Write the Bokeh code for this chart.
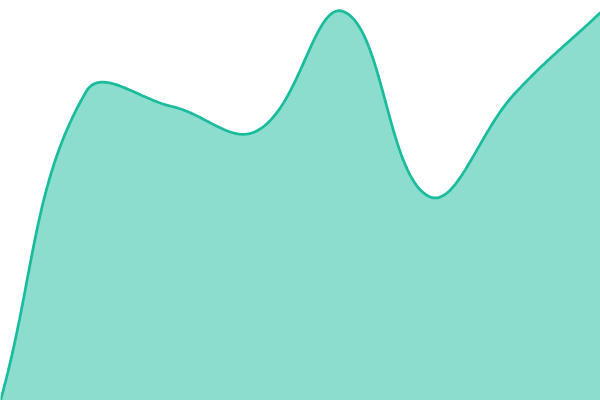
import numpy as np
from bokeh.plotting import figure
from bokeh.models import Range1d
from bokeh.embed import file_html
from bokeh.resources import INLINE

# Data (8 evenly spaced categories)
categories = list(range(8))
values = [0, 309, 294, 270, 389, 204, 307, 388]

W, H = 600, 400
Y_MIN, Y_MAX = 0, 400
X_MIN, X_MAX = 0, len(categories) - 1
TENSION = 0.4


def to_px(x, y):
    return (np.asarray(x) - X_MIN) / (X_MAX - X_MIN) * W, (np.asarray(y) - Y_MIN) / (Y_MAX - Y_MIN) * H


def to_data(px, py):
    return px / W * (X_MAX - X_MIN) + X_MIN, py / H * (Y_MAX - Y_MIN) + Y_MIN


def smooth_path(xs, ys, t=TENSION, n=40):
    """Rendering helper: tension spline through the data points (pixel space)."""
    px, py = to_px(xs, ys)
    pts = list(zip(px, py))
    m = len(pts)
    cps = []
    for i in range(m):
        prev = pts[i - 1] if i > 0 else pts[i]
        cur = pts[i]
        nxt = pts[i + 1] if i < m - 1 else pts[i]
        d01 = np.hypot(cur[0] - prev[0], cur[1] - prev[1])
        d12 = np.hypot(nxt[0] - cur[0], nxt[1] - cur[1])
        s = d01 + d12
        s01 = d01 / s if s else 0
        s12 = d12 / s if s else 0
        fa, fb = t * s01, t * s12
        cp_prev = (cur[0] - fa * (nxt[0] - prev[0]), cur[1] - fa * (nxt[1] - prev[1]))
        cp_next = (cur[0] + fb * (nxt[0] - prev[0]), cur[1] + fb * (nxt[1] - prev[1]))
        cp_prev = (min(max(cp_prev[0], 0), W), min(max(cp_prev[1], 0), H))
        cp_next = (min(max(cp_next[0], 0), W), min(max(cp_next[1], 0), H))
        cps.append((cp_prev, cp_next))
    out_x, out_y = [], []
    tt = np.linspace(0, 1, n)
    for i in range(m - 1):
        p0 = np.array(pts[i]); p3 = np.array(pts[i + 1])
        c1 = np.array(cps[i][1]); c2 = np.array(cps[i + 1][0])
        for k, u in enumerate(tt):
            if i > 0 and k == 0:
                continue
            b = ((1 - u) ** 3) * p0 + 3 * ((1 - u) ** 2) * u * c1 + 3 * (1 - u) * u * u * c2 + u ** 3 * p3
            out_x.append(b[0]); out_y.append(b[1])
    return to_data(np.array(out_x), np.array(out_y))


sx, sy = smooth_path(categories, values)

p = figure(width=W, height=H, output_backend="svg", toolbar_location=None,
           x_range=Range1d(X_MIN, X_MAX), y_range=Range1d(Y_MIN, Y_MAX),
           min_border=0, min_border_left=0, min_border_right=0,
           min_border_top=0, min_border_bottom=0)
p.axis.visible = False
p.grid.visible = False
p.outline_line_color = None
p.background_fill_color = "white"
p.border_fill_color = "white"

p.varea(x=sx, y1=np.full_like(sy, Y_MIN), y2=sy, fill_color="#1abc9c", fill_alpha=0.5)
p.line(x=sx, y=sy, line_color="#1abc9c", line_width=2.75)

open("out.html", "w").write(file_html(p, INLINE))
